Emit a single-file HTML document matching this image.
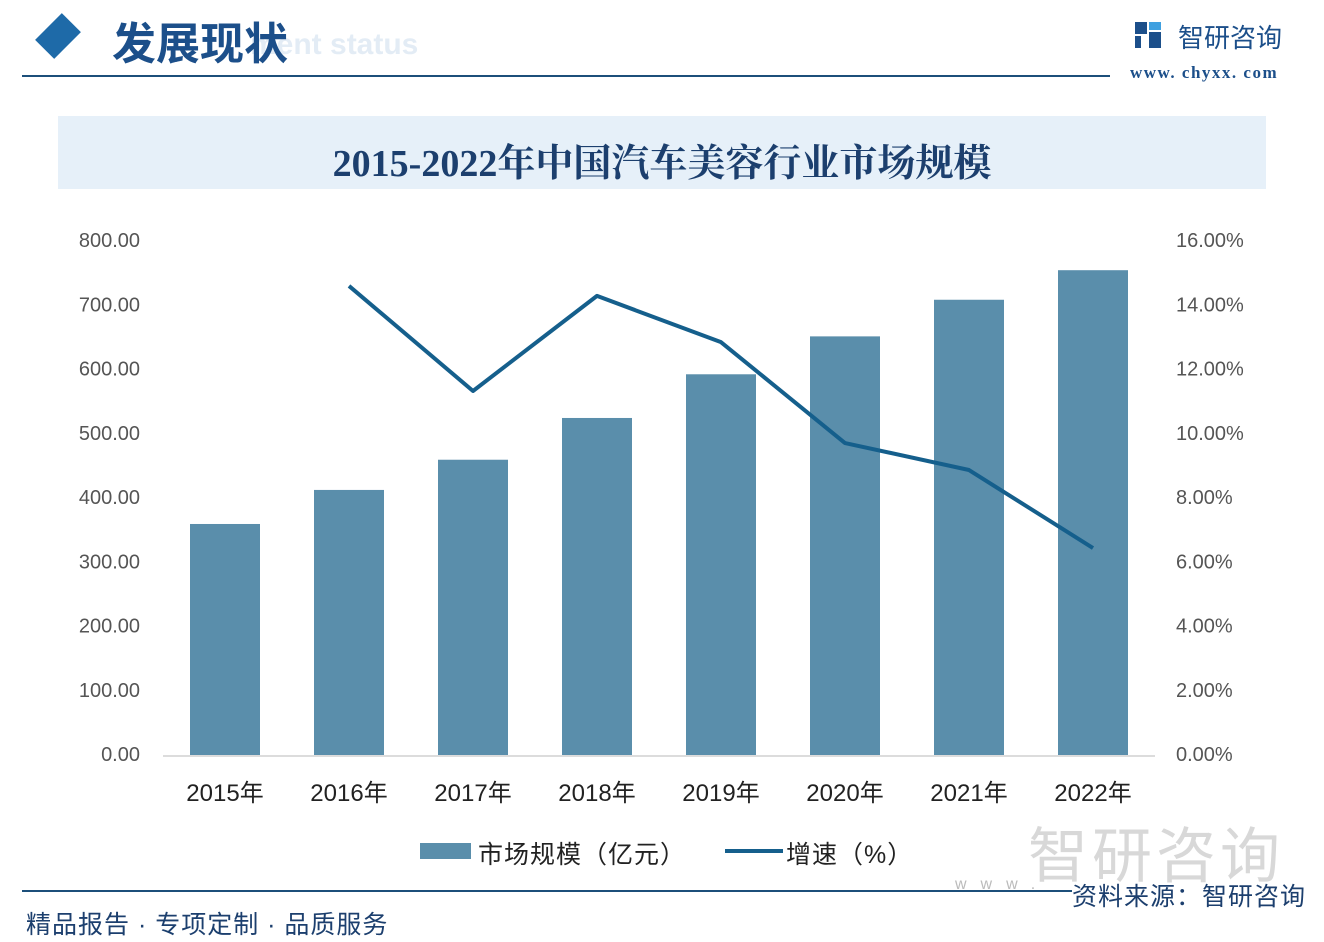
<!DOCTYPE html>
<html><head><meta charset="utf-8">
<style>
body{margin:0;width:1324px;height:942px;background:#fff;overflow:hidden;font-family:"Liberation Sans","Noto Sans CJK SC",sans-serif;position:relative}
.abs{position:absolute}
</style></head>
<body>
<div class="abs" style="left:40px;top:18px;width:36px;height:36px;background:#1e6aa8;transform:rotate(45deg) scale(0.75,1.05)"></div>
<div class="abs" style="left:250px;top:28px;font-size:30px;font-weight:bold;color:#e3ecf5;font-family:'Liberation Sans',sans-serif">ment status</div>
<div class="abs" style="left:112px;top:8px;font-size:44px;color:#1c4f8a;font-family:'Liberation Sans','Noto Sans CJK SC',sans-serif;font-weight:bold">发展现状</div>
<div class="abs" style="left:22px;top:75px;width:1088px;height:2px;background:#1c4f7a"></div>
<div class="abs" style="left:1133px;top:20px;width:30px;height:30px">
<svg width="30" height="30"><rect x="2" y="2" width="12" height="12" fill="#1c4f8a"/><rect x="2" y="16" width="6" height="12" fill="#1c4f8a"/><rect x="16" y="2" width="12" height="8" fill="#3fa0e0"/><rect x="16" y="12" width="12" height="16" fill="#1c4f8a"/></svg></div>
<div class="abs" style="left:1178px;top:18px;font-size:26px;color:#1c4f8a">智研咨询</div>
<div class="abs" style="left:1130px;top:63px;font-size:17px;color:#1c4f8a;font-family:'Liberation Serif',serif;font-weight:bold;letter-spacing:1.5px">www. chyxx. com</div>
<div class="abs" style="left:58px;top:116px;width:1208px;height:73px;background:#e6f0f9"></div>
<div class="abs" style="left:58px;top:132px;width:1208px;text-align:center;font-size:38px;font-weight:bold;color:#1c3f6e;font-family:'Liberation Serif','Noto Serif CJK SC',serif">2015-2022年中国汽车美容行业市场规模</div>

<svg class="abs" style="left:0;top:0" width="1324" height="942" id="chart">
</svg>

<div class="abs" style="left:420px;top:843px;width:51px;height:16px;background:#5a8eab"></div>
<div class="abs" style="left:478px;top:835px;font-size:25px;letter-spacing:1px;color:#222">市场规模（亿元）</div>
<div class="abs" style="left:725px;top:849px;width:58px;height:4px;background:#155f8c"></div>
<div class="abs" style="left:786px;top:835px;font-size:25px;letter-spacing:1px;color:#222">增速（%）</div>
<div class="abs" style="left:1028px;top:808px;font-size:60px;color:#d8d8d8;letter-spacing:4px">智研咨询</div>
<div class="abs" style="left:955px;top:876px;font-size:16px;color:#bbb;letter-spacing:14px">www.</div>
<div class="abs" style="left:22px;top:890px;width:1050px;height:2px;background:#1c4f7a"></div>
<div class="abs" style="left:1072px;top:877px;font-size:25px;letter-spacing:1px;color:#1c3f6e">资料来源：智研咨询</div>
<div class="abs" style="left:26px;top:905px;font-size:25px;letter-spacing:1px;color:#1c3f6e">精品报告 · 专项定制 · 品质服务</div>

<script>
const categories=["2015年","2016年","2017年","2018年","2019年","2020年","2021年","2022年"];
const marketSize=[358,411,458,523,591,650,707,753];
const growth=[null,14.57,11.3,14.26,12.82,9.68,8.84,6.41];
const leftTicks=["0.00","100.00","200.00","300.00","400.00","500.00","600.00","700.00","800.00"];
const rightTicks=["0.00%","2.00%","4.00%","6.00%","8.00%","10.00%","12.00%","14.00%","16.00%"];
const NS="http://www.w3.org/2000/svg";
const svg=document.getElementById('chart');
const X0=163,X1=1155,Y0=754,Y1=240;
const yL=v=>Y0-(v/800)*(Y0-Y1);
const yR=v=>Y0-(v/16)*(Y0-Y1);
const band=(X1-X0)/categories.length;
const xC=i=>X0+band*(i+0.5);
function mk(t,a){const e=document.createElementNS(NS,t);for(const k in a)e.setAttribute(k,a[k]);svg.appendChild(e);return e;}
leftTicks.forEach((t,i)=>{const e=mk('text',{x:140,y:yL(i*100)+7,'text-anchor':'end','font-size':20,fill:'#555','font-family':'Liberation Sans'});e.textContent=t;

});
rightTicks.forEach((t,i)=>{const e=mk('text',{x:1176,y:yR(i*2)+7,'font-size':20,fill:'#555','font-family':'Liberation Sans'});e.textContent=t;

});
const ax=mk('line',{x1:X0,x2:X1,y1:Y0+2,y2:Y0+2,stroke:'#d0d0d0','stroke-width':1.5});


marketSize.forEach((v,i)=>{const r=mk('rect',{x:xC(i)-35,y:yL(v),width:70,height:Y0-yL(v)+1,fill:'#5a8eab'});


const t=mk('text',{x:xC(i),y:801,'text-anchor':'middle','font-size':24,fill:'#222','font-family':'Liberation Sans, Noto Sans CJK SC'});t.textContent=categories[i];

});
let d='';growth.forEach((v,i)=>{if(v==null)return;d+=(d?'L':'M')+xC(i)+','+yR(v);});
const p=mk('path',{d:d,fill:'none',stroke:'#155f8c','stroke-width':4,'stroke-linejoin':'round'});


</script>
</body></html>
